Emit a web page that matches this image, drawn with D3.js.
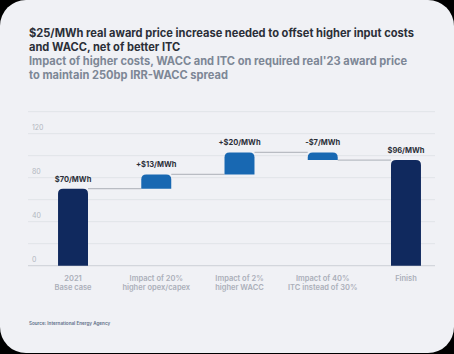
<!DOCTYPE html>
<html>
<head>
<meta charset="utf-8">
<script src="https://cdn.jsdelivr.net/npm/d3@7"></script>
<style>
  body { margin: 0; background: #000; }
  svg { display: block; font-family: Inter, "Noto Sans", sans-serif; }
</style>
</head>
<body>
<div id="chart"></div>
<script>
// waterfall data
const categories = ["2021|Base case", "Impact of 20%|higher opex/capex", "Impact of 2%|higher WACC", "Impact of 40%|ITC instead of 30%", "Finish"];
const deltas = [70, 13, 20, -7, 96];
const kinds = ["total", "delta", "delta", "delta", "total"];
const valueLabels = ["$70/MWh", "+$13/MWh", "+$20/MWh", "-$7/MWh", "$96/MWh"];
const yTicks = [0, 40, 80, 120];
const gridValues = [0, 20, 40, 60, 80, 100, 120, 140];

const W = 454, H = 354;

const svg = d3.select("#chart").append("svg")
  .attr("width", W)
  .attr("height", H);

svg.append("rect")
  .attr("x", 0).attr("y", 0)
  .attr("width", W).attr("height", H - 1)
  .attr("rx", 26)
  .attr("fill", "#f0f1f5");

// titles
const title = svg.append("text")
  .attr("x", 29).attr("y", 37)
  .attr("fill", "#2b2f38")
  .style("font-size", "11.1px")
  .style("font-weight", 700);
title.append("tspan").attr("x", 29).text("$25/MWh real award price increase needed to offset higher input costs");
title.append("tspan").attr("x", 29).attr("dy", 13.5).text("and WACC, net of better ITC");

const sub = svg.append("text")
  .attr("x", 29).attr("y", 65)
  .attr("fill", "#7d8796")
  .style("font-size", "11.1px")
  .style("font-weight", 700);
sub.append("tspan").attr("x", 29).text("Impact of higher costs, WACC and ITC on required real'23 award price");
sub.append("tspan").attr("x", 29).attr("dy", 14).text("to maintain 250bp IRR-WACC spread");

// compute waterfall extents
let running = 0;
const bars = deltas.map((d, i) => {
  let lo, hi;
  if (kinds[i] === "total") {
    lo = 0; hi = d; running = d;
  } else {
    const start = running;
    running = start + d;
    lo = Math.min(start, running); hi = Math.max(start, running);
  }
  return { cat: categories[i], kind: kinds[i], lo, hi, end: running, label: valueLabels[i], delta: d };
});

const x = d3.scaleBand()
  .domain(categories)
  .range([31.4, 447.6])
  .paddingInner(0.64)
  .paddingOuter(0.32);

const y = d3.scaleLinear()
  .domain([0, 140])
  .range([265.7, 111.7]);

// gridlines
svg.append("g")
  .selectAll("line")
  .data(gridValues)
  .join("line")
  .attr("x1", 28).attr("x2", 435)
  .attr("y1", d => y(d)).attr("y2", d => y(d))
  .attr("stroke", d => d === 0 ? "#d3d6dc" : "#e1e3e8")
  .attr("stroke-width", d => d === 0 ? 1.2 : 1);

svg.append("g")
  .selectAll("text")
  .data(yTicks)
  .join("text")
  .attr("x", 32).attr("y", d => y(d) - 3.5)
  .attr("fill", "#b3b7c0")
  .style("font-size", "7px")
  .text(d => d);

// connectors
const conn = [];
for (let i = 0; i < bars.length - 1; i++) {
  conn.push({ x1: x(bars[i].cat) + x.bandwidth(), x2: x(bars[i + 1].cat), v: bars[i].end });
}
svg.append("g")
  .selectAll("line")
  .data(conn)
  .join("line")
  .attr("x1", d => d.x1).attr("x2", d => d.x2)
  .attr("y1", d => y(d.v)).attr("y2", d => y(d.v))
  .attr("stroke", "#b9bcc3")
  .attr("stroke-width", 1.3);

// bars with rounded top corners
function barPath(b) {
  const x0 = x(b.cat), w = x.bandwidth();
  const top = y(b.hi), bot = y(b.lo);
  const r = Math.min(5, (bot - top));
  return `M${x0},${bot}V${top + r}Q${x0},${top} ${x0 + r},${top}H${x0 + w - r}Q${x0 + w},${top} ${x0 + w},${top + r}V${bot}Z`;
}

svg.append("g")
  .selectAll("path")
  .data(bars)
  .join("path")
  .attr("d", barPath)
  .attr("fill", d => d.kind === "total" ? "#10295e" : "#1868b2");

svg.append("g")
  .selectAll("text")
  .data(bars)
  .join("text")
  .attr("x", d => x(d.cat) + x.bandwidth() / 2)
  .attr("y", d => y(d.hi) - 7)
  .attr("text-anchor", "middle")
  .attr("fill", "#2b2f38")
  .style("font-size", "7.5px")
  .style("font-weight", 700)
  .text(d => d.label);

// category labels
const catG = svg.append("g")
  .selectAll("text")
  .data(categories)
  .join("text")
  .attr("x", d => x(d) + x.bandwidth() / 2)
  .attr("y", 281)
  .attr("text-anchor", "middle")
  .attr("fill", "#abafb9")
  .style("font-size", "7.5px")
  .style("font-weight", 600);
catG.each(function(d) {
  const parts = d.split("|");
  const t = d3.select(this);
  parts.forEach((p, j) => {
    t.append("tspan")
      .attr("x", x(d) + x.bandwidth() / 2)
      .attr("dy", j === 0 ? 0 : 8.7)
      .text(p);
  });
});

svg.append("text")
  .attr("x", 29).attr("y", 324.5)
  .attr("fill", "#5f6f88")
  .style("font-size", "4.6px")
  .style("font-weight", 600)
  .text("Source: International Energy Agency");
</script>
</body>
</html>
